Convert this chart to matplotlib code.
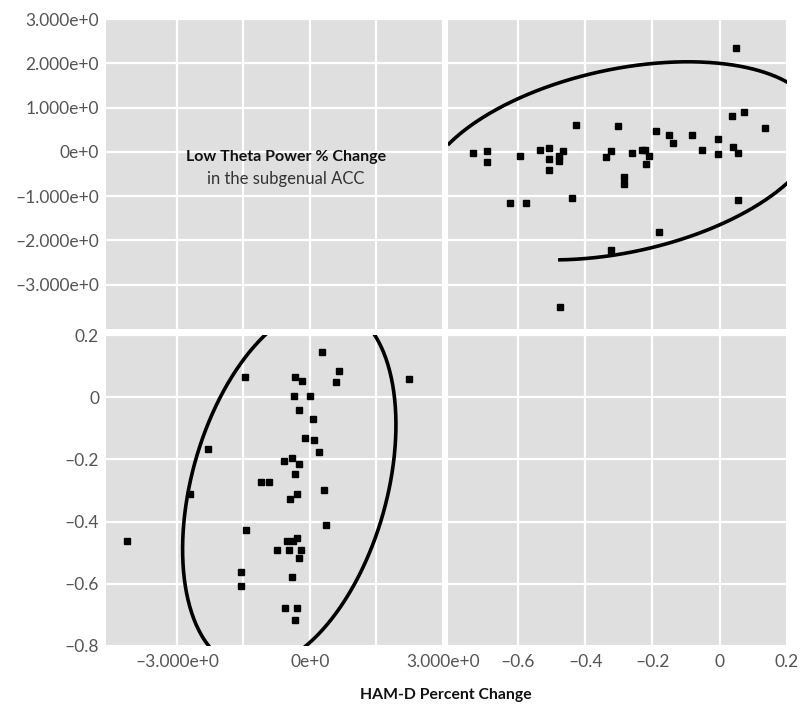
import numpy as np
import matplotlib
matplotlib.use("Agg")
import matplotlib.pyplot as plt

plt.rcParams['font.family'] = ['Lato', 'DejaVu Sans']

# ---------------- data ----------------
# top-right panel: x = HAM-D percent change, y = low theta power % change
hamd_tr = [0.047, 0.037, 0.072, 0.135, -0.426, -0.304, -0.189, -0.150, -0.138, -0.083,
           -0.006, -0.053, -0.006, 0.040, 0.053, 0.053, -0.734, -0.692, -0.692, -0.594,
           -0.533, -0.507, -0.507, -0.507, -0.477, -0.477, -0.465, -0.623, -0.577, -0.440,
           -0.339, -0.324, -0.286, -0.286, -0.260, -0.231, -0.222, -0.209, -0.218, -0.180,
           -0.324, -0.476]
theta_tr = [2.34, 0.82, 0.89, 0.55, 0.61, 0.58, 0.47, 0.37, 0.19, 0.37,
            0.30, 0.05, -0.05, 0.12, -0.02, -1.08, -0.02, 0.02, -0.24, -0.09,
            0.05, 0.09, -0.16, -0.41, -0.09, -0.20, 0.02, -1.15, -1.15, -1.04,
            -0.12, 0.02, -0.57, -0.72, -0.02, 0.05, 0.05, -0.09, -0.27, -1.82,
            -2.21, -3.50]

# bottom-left panel: x = low theta power % change, y = HAM-D percent change
theta_bl = [0.271, 0.662, 0.580, 2.235, -1.474, -0.331, -0.181, -0.369, 0.000, -0.248,
            0.075, -0.105, 0.083, 0.196, -2.295, -0.594, -0.399, -0.248, -0.331, -1.113,
            -0.933, -2.700, -0.293, -0.444, 0.316, 0.354, -1.445, -4.131, -0.293, -0.526,
            -0.377, -0.752, -0.481, -0.210, -0.248, -1.558, -1.558, -0.406, -0.557, -0.293,
            -0.331]
hamd_bl = [0.144, 0.083, 0.048, 0.059, 0.064, 0.064, 0.053, 0.004, 0.004, -0.042,
           -0.071, -0.131, -0.137, -0.176, -0.166, -0.206, -0.196, -0.214, -0.246, -0.272,
           -0.272, -0.310, -0.311, -0.326, -0.297, -0.411, -0.427, -0.462, -0.452, -0.462,
           -0.462, -0.492, -0.492, -0.492, -0.516, -0.561, -0.607, -0.577, -0.677, -0.677,
           -0.717]

# ellipses: centre, two conjugate half-axis vectors, drawn angle spans (degrees)
tr_center = (-0.294, -0.203)
tr_u = (0.5885, 0.758)
tr_v = (0.0, 2.104)
tr_arcs = [(30, 151), (-108.5, -30)]

bl_center = (-0.467, -0.289)
bl_u = (2.26, 0.0)
bl_v = (-0.824, -0.584)
bl_arcs = [(0, 360)]

# axis ticks / labels
theta_ticks = [3, 2, 1, 0, -1, -2, -3]
theta_labels = ["3.000e+0", "2.000e+0", "1.000e+0", "0e+0", "–1.000e+0", "–2.000e+0", "–3.000e+0"]
theta_xticks = [-3, 0, 3]
theta_xlabels = ["–3.000e+0", "0e+0", "3.000e+0"]
theta_minor = [-1.5, 1.5]
hamd_yticks = [-0.8, -0.6, -0.4, -0.2, 0, 0.2]
hamd_ylabels = ["–0.8", "–0.6", "–0.4", "–0.2", "0", "0.2"]
hamd_xticks = [-0.6, -0.4, -0.2, 0, 0.2]
hamd_xlabels = ["–0.6", "–0.4", "–0.2", "0", "0.2"]

theta_xlim = (-4.6, 3.0)
theta_ylim = (-4.0, 3.0)
hamd_lim_x = (-0.808, 0.2)
hamd_lim_y = (-0.8, 0.2)

# ---------------- figure ----------------
W, H = 801, 709
fig = plt.figure(figsize=(W / 100, H / 100), dpi=100)

def frac(x0, y0, x1, y1):
    return [x0 / W, 1 - y1 / H, (x1 - x0) / W, (y1 - y0) / H]

ax_tl = fig.add_axes(frac(106, 19, 443, 329))
ax_tr = fig.add_axes(frac(448, 19, 787, 329))
ax_bl = fig.add_axes(frac(106, 335, 443, 646))
ax_br = fig.add_axes(frac(448, 335, 787, 646))

bg = "#dfdfdf"
tick_col = "#555555"
for ax in (ax_tl, ax_tr, ax_bl, ax_br):
    ax.set_facecolor(bg)
    for s in ax.spines.values():
        s.set_visible(False)
    ax.tick_params(which="both", length=0, labelsize=12.5, labelcolor=tick_col)
    ax.grid(True, which="both", color="white", linewidth=1.6)
    ax.set_axisbelow(True)

# limits
ax_tl.set_xlim(*theta_xlim); ax_tl.set_ylim(*theta_ylim)
ax_bl.set_xlim(*theta_xlim); ax_bl.set_ylim(*hamd_lim_y)
ax_tr.set_xlim(*hamd_lim_x); ax_tr.set_ylim(*theta_ylim)
ax_br.set_xlim(*hamd_lim_x); ax_br.set_ylim(*hamd_lim_y)

# ticks
for ax in (ax_tl, ax_bl):
    ax.set_xticks(theta_xticks)
    ax.set_xticks(theta_minor, minor=True)
for ax in (ax_tr, ax_br):
    ax.set_xticks(hamd_xticks)
for ax in (ax_tl, ax_tr):
    ax.set_yticks(theta_ticks)
for ax in (ax_bl, ax_br):
    ax.set_yticks(hamd_yticks)

ax_tl.set_yticklabels(theta_labels)
ax_bl.set_yticklabels(hamd_ylabels)
ax_bl.set_xticklabels(theta_xlabels)
ax_br.set_xticklabels(hamd_xlabels)
ax_tl.tick_params(labelbottom=False, pad=5)
ax_tr.tick_params(labelbottom=False, labelleft=False)
ax_br.tick_params(labelleft=False, pad=6)
ax_bl.tick_params(axis="x", pad=6)
ax_bl.tick_params(axis="y", pad=5)

# points
mk = dict(marker="s", markersize=4.5, linestyle="none", color="black", clip_on=False)
ax_tr.plot(hamd_tr, theta_tr, **mk)
ax_bl.plot(theta_bl, hamd_bl, **mk)

def draw_ellipse(ax, c, u, v, arcs):
    for a0, a1 in arcs:
        t = np.radians(np.linspace(a0, a1, 400))
        x = c[0] + u[0] * np.cos(t) + v[0] * np.sin(t)
        y = c[1] + u[1] * np.cos(t) + v[1] * np.sin(t)
        ax.plot(x, y, color="black", linewidth=2.6, solid_capstyle="butt")

draw_ellipse(ax_tr, tr_center, tr_u, tr_v, tr_arcs)
draw_ellipse(ax_bl, bl_center, bl_u, bl_v, bl_arcs)

# diagonal label
ax_tl.text(0.533, 0.555, "Low Theta Power % Change", transform=ax_tl.transAxes,
           ha="center", va="center", fontsize=11.5, fontweight="bold", color="#111111")
ax_tl.text(0.533, 0.484, "in the subgenual ACC", transform=ax_tl.transAxes,
           ha="center", va="center", fontsize=12, color="#333333")

fig.text(446 / W, 1 - 695 / H, "HAM-D Percent Change", ha="center", va="center",
         fontsize=11.3, fontweight="bold", color="#111111")

fig.savefig("out.png", dpi=100, facecolor="white")
